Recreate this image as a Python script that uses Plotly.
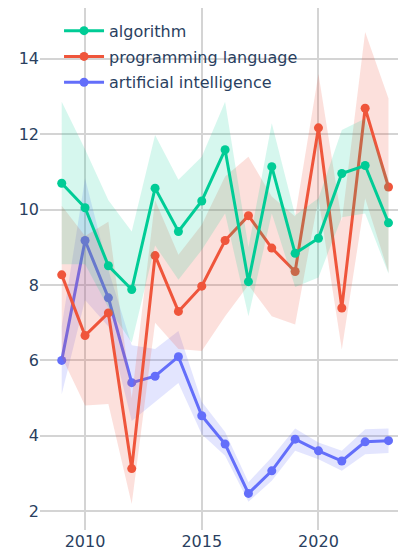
import plotly.graph_objects as go

years = list(range(2009, 2024))

alg = [10.70, 10.05, 8.51, 7.88, 10.57, 9.42, 10.23, 11.59, 8.09, 11.14, 8.84, 9.24, 10.96, 11.17, 9.65]
alg_upper = [12.86, 11.6, 10.25, 9.42, 11.98, 10.79, 11.4, 12.86, 9.0, 12.29, 9.85, 10.3, 12.11, 12.42, 10.8]
alg_lower = [8.55, 8.55, 7.4, 6.47, 9.05, 8.14, 8.93, 9.9, 7.17, 9.9, 7.95, 8.2, 9.8, 9.9, 8.3]

pl = [8.27, 6.66, 7.26, 3.13, 8.78, 7.30, 7.97, 9.18, 9.84, 8.98, 8.36, 12.17, 7.39, 12.69, 10.6]
pl_upper = [10.1, 9.3, 9.68, 5.0, 10.25, 8.8, 9.6, 10.88, 11.4, 10.35, 9.82, 13.6, 9.7, 14.71, 12.95]
pl_lower = [6.1, 4.8, 4.84, 2.19, 7.0, 6.3, 6.25, 7.17, 8.0, 7.17, 6.95, 10.3, 6.29, 10.3, 8.33]

ai = [6.0, 9.18, 7.66, 5.41, 5.58, 6.10, 4.53, 3.78, 2.47, 3.07, 3.91, 3.60, 3.33, 3.84, 3.87]
ai_upper = [6.9, 10.83, 8.4, 6.4, 6.3, 6.78, 4.9, 4.1, 2.77, 3.43, 4.19, 3.82, 3.6, 4.17, 4.19]
ai_lower = [5.1, 7.6, 6.9, 4.39, 4.9, 5.4, 4.04, 3.47, 2.25, 2.81, 3.6, 3.38, 3.07, 3.51, 3.54]

# (name, values, upper, lower, line colour, band colour, legend rank)
series = [
    ("artificial intelligence", ai, ai_upper, ai_lower, "#636EFA", "rgba(99,110,250,0.18)", 3),
    ("programming language", pl, pl_upper, pl_lower, "#EF553B", "rgba(239,85,59,0.18)", 2),
    ("algorithm", alg, alg_upper, alg_lower, "#00CC96", "rgba(0,204,150,0.16)", 1),
]

fig = go.Figure()
for name, vals, up, lo, col, fillcol, rank in series:
    fig.add_trace(go.Scatter(
        x=years + years[::-1], y=up + lo[::-1], legendgroup=name, legendrank=rank,
        fill="toself", fillcolor=fillcol, line=dict(width=0, color=fillcol),
        mode="lines", hoverinfo="skip", showlegend=False))
    fig.add_trace(go.Scatter(
        x=years, y=vals, name=name, legendgroup=name, legendrank=rank,
        mode="lines+markers",
        line=dict(color=col, width=3), marker=dict(color=col, size=9)))

fig.update_layout(
    width=398, height=549,
    margin=dict(l=32, r=0, t=0, b=27),
    paper_bgcolor="white", plot_bgcolor="white",
    font=dict(family="DejaVu Sans, sans-serif", size=16, color="#2a3f5f"),
    legend=dict(x=0.052, y=0.989, xanchor="left", yanchor="top", itemwidth=40,
                tracegroupgap=2,
                bgcolor="rgba(0,0,0,0)", traceorder="grouped", font=dict(size=16)),
    showlegend=True,
)
fig.update_xaxes(range=[2008.07, 2023.75], tickvals=[2010, 2015, 2020],
                 showgrid=True, gridcolor="#d4d4d4", gridwidth=1.5, zeroline=False, showline=False)
fig.update_yaxes(range=[1.5, 15.35], tickvals=[2, 4, 6, 8, 10, 12, 14],
                 showgrid=True, gridcolor="#d4d4d4", gridwidth=1.5, zeroline=False, showline=False)

fig.write_html("out.html")
